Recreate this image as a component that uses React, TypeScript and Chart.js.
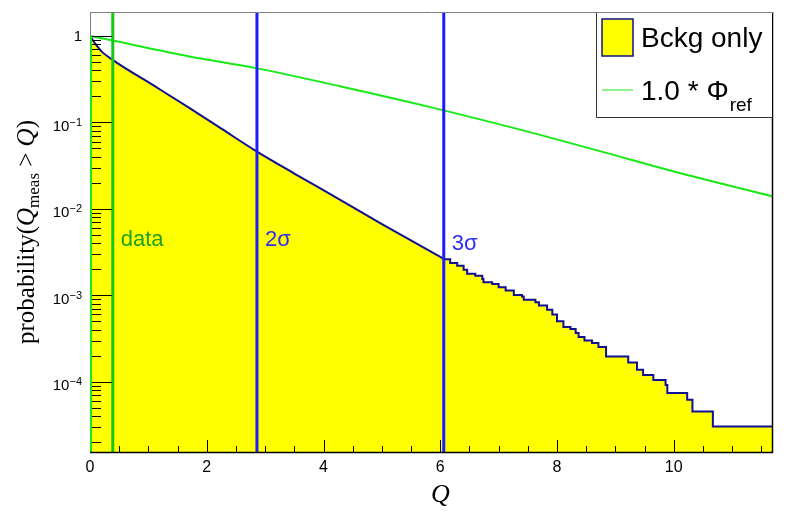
import React, { useEffect, useRef } from "react";
import { Chart, registerables } from "chart.js";
Chart.register(...registerables);

// Axis ranges
const X_MIN = 0;
const X_MAX = 11.7;
const Y_MIN = 1.5e-5;
const Y_MAX = 1.89;

// Tick labels
const xTickValues = [0, 2, 4, 6, 8, 10];
const xTickLabels = ["0", "2", "4", "6", "8", "10"];
const yTickValues = [1e-4, 1e-3, 1e-2, 1e-1, 1];
const yTickExponents = ["−4", "−3", "−2", "−1", ""];

// Background-only distribution: smooth part
const bckgSmoothQ = [0, 0.08, 0.194, 0.394, 1.109, 1.68, 2.251, 2.854, 3.5, 4.286, 4.971, 6.069];
const bckgSmoothP = [1.0, 0.83, 0.666, 0.524, 0.262, 0.15, 0.0845, 0.0462, 0.0256, 0.0127, 0.00683, 0.00262];

// Background-only distribution: stepped tail (level held from each Q to the next)
const bckgTailQ = [
  6.069, 6.17, 6.29, 6.4, 6.46, 6.6, 6.72, 6.74, 6.89, 7.0,
  7.12, 7.26, 7.4, 7.43, 7.63, 7.69, 7.83, 7.92, 8.0, 8.11,
  8.23, 8.32, 8.37, 8.47, 8.6, 8.71, 8.84, 9.22, 9.37, 9.475,
  9.65, 9.86, 9.89, 10.23, 10.32, 10.67, 11.7,
];
const bckgTailP = [
  0.00262, 0.00236, 0.00219, 0.00197, 0.00177, 0.00168, 0.00154, 0.00142, 0.00135, 0.00124,
  0.00114, 0.00101, 9.7e-4, 8.9e-4, 8.3e-4, 7.6e-4, 6.8e-4, 6.0e-4, 5.0e-4, 4.3e-4,
  4.07e-4, 3.66e-4, 3.29e-4, 3.0e-4, 2.8e-4, 2.52e-4, 1.96e-4, 1.67e-4, 1.38e-4, 1.2e-4,
  1.05e-4, 9.2e-5, 7.4e-5, 6.2e-5, 4.54e-5, 3.04e-5, 3.04e-5,
];

// Reference curve 1.0 * Phi_ref
const refQ = [0, 0.39, 1.68, 2.86, 4.3, 5.83, 7.71, 8.86, 10.0, 11.7];
const refP = [1.0, 0.883, 0.582, 0.421, 0.26, 0.15, 0.0717, 0.0441, 0.027, 0.0139];

// Vertical markers
const markerQ = [0.39, 2.86, 6.06];
const markerLabels = ["data", "2σ", "3σ"];
const markerLabelP = [0.0037, 0.0037, 0.0033];

const YELLOW = "#ffff00";
const NAVY = "#101090";
const REF_GREEN = "#18ea18";
const DATA_GREEN = "#16c816";
const DATA_TEXT = "#20a020";
const BLUE = "#1c1cff";
const BLUE_TEXT = "#2e2ef0";

const SANS = '"Liberation Sans", Arial, Helvetica, sans-serif';
const SERIF = '"Liberation Serif", "Times New Roman", serif';

const toPts = (xs: number[], ys: number[]) => xs.map((x, i) => ({ x, y: ys[i] }));

const overlayPlugin = {
  id: "rootOverlay",
  afterDatasetsDraw(chart: any) {
    const ctx = chart.ctx as CanvasRenderingContext2D;
    const { left, top, bottom } = chart.chartArea;
    const xs = chart.scales.x;
    const ys = chart.scales.y;
    ctx.save();

    // Vertical marker lines
    markerQ.forEach((q, i) => {
      const px = xs.getPixelForValue(q);
      ctx.beginPath();
      ctx.strokeStyle = i === 0 ? DATA_GREEN : BLUE;
      ctx.lineWidth = 3;
      ctx.moveTo(px, top);
      ctx.lineTo(px, bottom);
      ctx.stroke();
    });

    // Tick marks (inside the frame)
    ctx.strokeStyle = "#000";
    ctx.lineWidth = 1;
    ctx.beginPath();
    for (let e = -6; e <= 1; e++) {
      for (let m = 1; m <= 9; m++) {
        const v = m * Math.pow(10, e);
        if (v < Y_MIN || v > Y_MAX) continue;
        const py = Math.round(ys.getPixelForValue(v)) + 0.5;
        const len = m === 1 ? 22 : 11;
        ctx.moveTo(left, py);
        ctx.lineTo(left + len, py);
      }
    }
    for (let k = 0; k * 0.5 <= X_MAX; k++) {
      const q = k * 0.5;
      const px = Math.round(xs.getPixelForValue(q)) + 0.5;
      const len = k % 4 === 0 ? 13 : 7;
      ctx.moveTo(px, bottom);
      ctx.lineTo(px, bottom - len);
    }
    ctx.stroke();

    // Marker labels
    ctx.font = `22px ${SANS}`;
    ctx.textAlign = "left";
    ctx.textBaseline = "alphabetic";
    markerQ.forEach((q, i) => {
      const px = xs.getPixelForValue(q);
      const py = ys.getPixelForValue(markerLabelP[i]);
      ctx.fillStyle = i === 0 ? DATA_TEXT : BLUE_TEXT;
      ctx.fillText(markerLabels[i], px + 8, py);
    });
    ctx.restore();
  },
  afterDraw(chart: any) {
    const ctx = chart.ctx as CanvasRenderingContext2D;
    const { left, right, top, bottom } = chart.chartArea;
    const xs = chart.scales.x;
    const ys = chart.scales.y;
    ctx.save();

    // Frame
    const oneY = ys.getPixelForValue(1);
    ctx.lineWidth = 1;
    ctx.strokeStyle = "#808080";
    ctx.beginPath();
    ctx.moveTo(left, top + 0.5);
    ctx.lineTo(right, top + 0.5);
    ctx.moveTo(left + 0.5, top);
    ctx.lineTo(left + 0.5, oneY);
    ctx.stroke();
    ctx.strokeStyle = REF_GREEN;
    ctx.lineWidth = 2;
    ctx.beginPath();
    ctx.moveTo(left + 1, oneY);
    ctx.lineTo(left + 1, bottom);
    ctx.stroke();
    ctx.strokeStyle = "#000";
    ctx.lineWidth = 1.5;
    ctx.beginPath();
    ctx.moveTo(right - 0.5, top);
    ctx.lineTo(right - 0.5, bottom);
    ctx.moveTo(left, bottom - 0.5);
    ctx.lineTo(right, bottom - 0.5);
    ctx.stroke();

    // Y tick labels
    ctx.fillStyle = "#000";
    ctx.textBaseline = "alphabetic";
    yTickValues.forEach((v, i) => {
      const py = ys.getPixelForValue(v);
      const exp = yTickExponents[i];
      const xr = left - 8;
      if (!exp) {
        ctx.font = `15px ${SANS}`;
        ctx.textAlign = "right";
        ctx.fillText("1", xr, py + 5.5);
        return;
      }
      ctx.font = `11px ${SANS}`;
      const ew = ctx.measureText(exp).width;
      ctx.textAlign = "left";
      ctx.fillText(exp, xr - ew, py + 3.5);
      ctx.font = `15px ${SANS}`;
      ctx.textAlign = "right";
      ctx.fillText("10", xr - ew, py + 8.5);
    });

    // X tick labels
    ctx.font = `16px ${SANS}`;
    ctx.textAlign = "center";
    xTickValues.forEach((v, i) => {
      ctx.fillText(xTickLabels[i], xs.getPixelForValue(v), bottom + 19);
    });

    // X title
    ctx.font = `italic 26px ${SERIF}`;
    ctx.textAlign = "center";
    ctx.fillText("Q", (left + right) / 2 + 9, bottom + 49);

    // Y title (rotated, with subscript)
    const parts: { t: string; f: string; dy: number }[] = [
      { t: "probability(", f: `25px ${SERIF}`, dy: 0 },
      { t: "Q", f: `italic 25px ${SERIF}`, dy: 0 },
      { t: "meas", f: `17px ${SERIF}`, dy: 5 },
      { t: " > ", f: `25px ${SERIF}`, dy: 0 },
      { t: "Q", f: `italic 25px ${SERIF}`, dy: 0 },
      { t: ")", f: `25px ${SERIF}`, dy: 0 },
    ];
    let total = 0;
    const widths = parts.map((p) => {
      ctx.font = p.f;
      const w = ctx.measureText(p.t).width;
      total += w;
      return w;
    });
    ctx.save();
    ctx.translate(34, 232);
    ctx.rotate(-Math.PI / 2);
    ctx.textAlign = "left";
    let cx = -total / 2;
    parts.forEach((p, i) => {
      ctx.font = p.f;
      ctx.fillText(p.t, cx, p.dy);
      cx += widths[i];
    });
    ctx.restore();

    // Legend box
    const lx = right - 177;
    const ly = top;
    const lw = 177;
    const lh = 105;
    ctx.fillStyle = "#fff";
    ctx.fillRect(lx, ly + 1, lw - 1, lh);
    ctx.strokeStyle = "#333";
    ctx.lineWidth = 1;
    ctx.beginPath();
    ctx.moveTo(lx + 0.5, ly);
    ctx.lineTo(lx + 0.5, ly + lh + 0.5);
    ctx.lineTo(right, ly + lh + 0.5);
    ctx.stroke();
    ctx.strokeStyle = "#808080";
    ctx.beginPath();
    ctx.moveTo(lx, top + 0.5);
    ctx.lineTo(right, top + 0.5);
    ctx.stroke();

    // Entry 1: yellow box
    ctx.fillStyle = YELLOW;
    ctx.fillRect(lx + 6, ly + 7, 31, 37);
    ctx.strokeStyle = NAVY;
    ctx.lineWidth = 1.5;
    ctx.strokeRect(lx + 6, ly + 7, 31, 37);
    ctx.fillStyle = "#000";
    ctx.font = `28px ${SANS}`;
    ctx.textAlign = "left";
    ctx.fillText("Bckg only", lx + 45, ly + 35);

    // Entry 2: green line
    ctx.strokeStyle = "#66ee66";
    ctx.lineWidth = 1.5;
    ctx.beginPath();
    ctx.moveTo(lx + 6, ly + 78);
    ctx.lineTo(lx + 37, ly + 78);
    ctx.stroke();
    ctx.fillStyle = "#000";
    ctx.font = `28px ${SANS}`;
    const main = "1.0 * Φ";
    ctx.fillText(main, lx + 45, ly + 88);
    const mw = ctx.measureText(main).width;
    ctx.font = `19px ${SANS}`;
    ctx.fillText("ref", lx + 45 + mw + 1, ly + 99);

    ctx.restore();
  },
};

export default function App() {
  const ref = useRef<HTMLCanvasElement>(null);
  useEffect(() => {
    document.body.style.margin = "0";
    const canvas = ref.current!;
    const chart = new Chart(canvas, {
      type: "line",
      data: {
        datasets: [
          {
            label: "1.0 * Φref",
            data: toPts(refQ, refP),
            borderColor: REF_GREEN,
            borderWidth: 2,
            fill: false,
            pointRadius: 0,
            cubicInterpolationMode: "monotone",
            order: 0,
          },
          {
            label: "Bckg only",
            data: toPts(bckgSmoothQ, bckgSmoothP),
            borderColor: NAVY,
            borderWidth: 2,
            backgroundColor: YELLOW,
            fill: "start",
            pointRadius: 0,
            cubicInterpolationMode: "monotone",
            order: 1,
          },
          {
            label: "Bckg only tail",
            data: toPts(bckgTailQ, bckgTailP),
            borderColor: NAVY,
            borderWidth: 2,
            backgroundColor: YELLOW,
            fill: "start",
            pointRadius: 0,
            stepped: "before",
            order: 1,
          },
        ],
      } as any,
      options: {
        animation: false,
        responsive: false,
        devicePixelRatio: 1,
        layout: { padding: { left: 90, right: 15, top: 12, bottom: 60 } },
        plugins: { legend: { display: false }, tooltip: { enabled: false } },
        scales: {
          x: { type: "linear", min: X_MIN, max: X_MAX, display: false },
          y: { type: "logarithmic", min: Y_MIN, max: Y_MAX, display: false },
        },
      } as any,
      plugins: [overlayPlugin],
    });
    return () => chart.destroy();
  }, []);
  return (
    <div style={{ width: 788, height: 513, background: "#fff" }}>
      <canvas ref={ref} width={788} height={513} style={{ display: "block" }} />
    </div>
  );
}
